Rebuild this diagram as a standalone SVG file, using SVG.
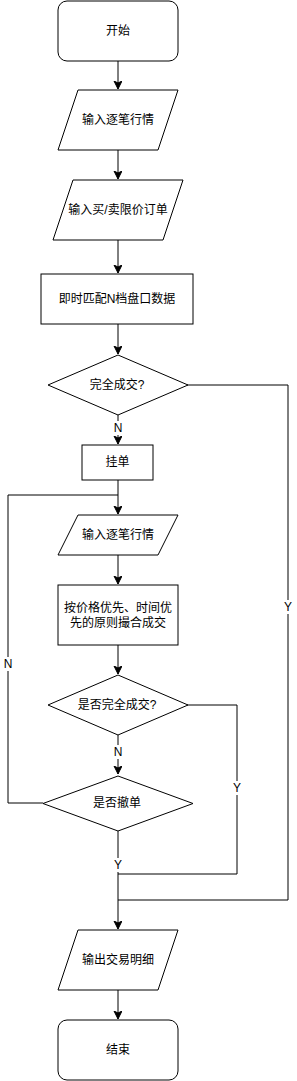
<svg xmlns="http://www.w3.org/2000/svg" width="297" height="1081" viewBox="0 0 297 1081">
<style>
.s{fill:#fff;stroke:#000;stroke-width:1}
.c{fill:none;stroke:#000;stroke-width:1}
.t{font-family:"Liberation Sans","Noto Sans CJK SC",sans-serif;font-size:12px;fill:#000;text-anchor:middle;dominant-baseline:central}
.bg{fill:#fff}
</style>
<defs>
<marker id="a" markerUnits="userSpaceOnUse" markerWidth="10" markerHeight="10" refX="8" refY="4" orient="auto">
<path d="M0,0 L8,4 L0,8 L2,4 z" fill="#000" stroke="#000" stroke-width="1"/>
</marker>
</defs>
<rect width="297" height="1081" fill="#fff"/>
<g id="connectors">
<path class="c" d="M118,61 V89" marker-end="url(#a)"/>
<path class="c" d="M118,150 V179" marker-end="url(#a)"/>
<path class="c" d="M118,240 V273" marker-end="url(#a)"/>
<path class="c" d="M118,324 V354" marker-end="url(#a)"/>
<path class="c" d="M118,415 V444" marker-end="url(#a)"/>
<path class="c" d="M118,480 V514" marker-end="url(#a)"/>
<path class="c" d="M118,555 V584" marker-end="url(#a)"/>
<path class="c" d="M118,645 V674" marker-end="url(#a)"/>
<path class="c" d="M118,735 V774" marker-end="url(#a)"/>
<path class="c" d="M43,803 H8 V495 H118"/>
<path class="c" d="M118,831 V929" marker-end="url(#a)"/>
<path class="c" d="M187,705 H237 V874 H118"/>
<path class="c" d="M187,385 H288 V900 H118"/>
<rect class="bg" x="112" y="421" width="12" height="14"/>
<text class="t" x="118" y="428">N</text>
<rect class="bg" x="112" y="745" width="12" height="14"/>
<text class="t" x="118" y="752">N</text>
<rect class="bg" x="2" y="657" width="12" height="14"/>
<text class="t" x="8" y="664">N</text>
<rect class="bg" x="112" y="858" width="12" height="14"/>
<text class="t" x="118" y="865">Y</text>
<rect class="bg" x="231" y="781" width="12" height="14"/>
<text class="t" x="237" y="788">Y</text>
<rect class="bg" x="282" y="600" width="12" height="14"/>
<text class="t" x="288" y="607">Y</text>
</g>
<g id="start">
<rect class="s" x="58" y="1" width="120" height="60" rx="9"/>
<text class="t" x="118" y="31">开始</text>
</g>
<g id="input1">
<polygon class="s" points="78,90 178,90 158,150 58,150"/>
<text class="t" x="118" y="120">输入逐笔行情</text>
</g>
<g id="input2">
<polygon class="s" points="73,180 183,180 163,240 53,240"/>
<text class="t" x="118" y="210">输入买/卖限价订单</text>
</g>
<g id="match">
<rect class="s" x="41" y="274" width="152" height="50"/>
<text class="t" x="117" y="299">即时匹配N档盘口数据</text>
</g>
<g id="dec1">
<polygon class="s" points="118,355 188,385 118,415 48,385"/>
<text class="t" x="117" y="385">完全成交?</text>
</g>
<g id="pending">
<rect class="s" x="82" y="445" width="71" height="35"/>
<text class="t" x="117.5" y="462">挂单</text>
</g>
<g id="input3">
<polygon class="s" points="78,515 178,515 158,555 58,555"/>
<text class="t" x="118" y="535">输入逐笔行情</text>
</g>
<g id="matching">
<rect class="s" x="58" y="585" width="120" height="60"/>
<text class="t" x="118" y="608">按价格优先、时间优</text>
<text class="t" x="118" y="623">先的原则撮合成交</text>
</g>
<g id="dec2">
<polygon class="s" points="118,675 188,705 118,735 48,705"/>
<text class="t" x="117" y="705">是否完全成交?</text>
</g>
<g id="dec3">
<polygon class="s" points="118,776 193,803.5 118,831 43,803.5"/>
<text class="t" x="117" y="803">是否撤单</text>
</g>
<g id="output">
<polygon class="s" points="78,930 178,930 158,990 58,990"/>
<text class="t" x="118" y="960">输出交易明细</text>
</g>
<path class="c" d="M118,990 V1019" marker-end="url(#a)"/>
<g id="end">
<rect class="s" x="58" y="1020" width="120" height="60" rx="9"/>
<text class="t" x="118" y="1050">结束</text>
</g>
</svg>
